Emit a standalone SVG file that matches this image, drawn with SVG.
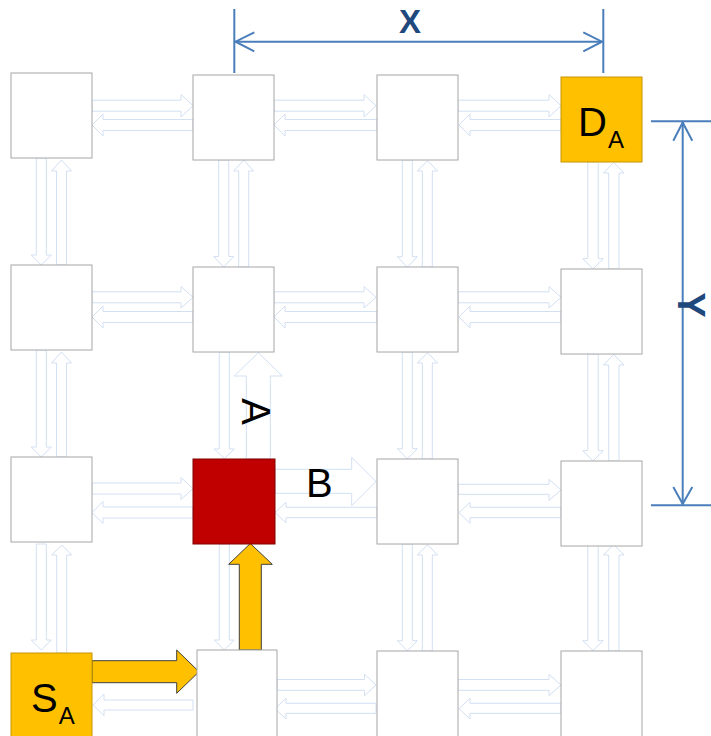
<svg xmlns="http://www.w3.org/2000/svg" width="711" height="736" viewBox="0 0 711 736">
  <style>
    .node { fill: #ffffff; stroke: #a6a6a6; stroke-width: 1; }
    .src { fill: #ffc000; stroke: #c89400; stroke-width: 1; }
    .hot { fill: #c00000; stroke: #7f0000; stroke-width: 1; }
    .link { fill: #ffffff; stroke: #d2e0f2; stroke-width: 1; }
    .route { fill: #ffc000; stroke: #3f3f3f; stroke-width: 1; }
    .dim { fill: none; stroke: #4a7ebb; stroke-width: 2; }
    .lbl { font-family: "Liberation Sans", Arial, sans-serif; font-size: 40px; fill: #000000; }
    .sub { font-size: 24px; }
    .dimlbl { font-family: "Liberation Sans", Arial, sans-serif; font-size: 33px; font-weight: bold; fill: #1f497d; }
  </style>

  <!-- Links (drawn first so the router boxes sit on top of their ends) -->
  <g id="connectors">
    <!-- row 1 horizontal -->
    <path class="link" d="M92,100.2 H181 V94.5 L193,105.7 L181,117 V111.2 H92 Z"/>
    <path class="link" d="M193,119.5 H103 V114 L92,125 L103,136 V130.5 H193 Z"/>
    <path class="link" d="M274,100.2 H364 V94.5 L376,105.7 L364,117 V111.2 H274 Z"/>
    <path class="link" d="M377,119.5 H285 V114 L274,125 L285,136 V130.5 H377 Z"/>
    <path class="link" d="M458,100.2 H549 V94.5 L561,105.7 L549,117 V111.2 H458 Z"/>
    <path class="link" d="M561,119.5 H470 V114 L459,125 L470,136 V130.5 H561 Z"/>

    <!-- row 2 horizontal -->
    <path class="link" d="M92,291.8 H181 V286.5 L193,297.3 L181,308 V302.8 H92 Z"/>
    <path class="link" d="M193,311.5 H103 V306 L92,317 L103,328 V322.5 H193 Z"/>
    <path class="link" d="M274,291.8 H364 V286.5 L376,297.3 L364,308 V302.8 H274 Z"/>
    <path class="link" d="M377,311.5 H285 V306 L274,317 L285,328 V322.5 H377 Z"/>
    <path class="link" d="M458,291.8 H549 V286.5 L561,297.3 L549,308 V302.8 H458 Z"/>
    <path class="link" d="M561,311.5 H470 V306 L459,317 L470,328 V322.5 H561 Z"/>

    <!-- row 3 horizontal -->
    <path class="link" d="M92,483 H181 V477.5 L193,488.5 L181,499.5 V494 H92 Z"/>
    <path class="link" d="M193,507 H103 V501.5 L92,512.5 L103,523.5 V518 H193 Z"/>
    <path class="link" d="M275,469.3 H351.7 V457.3 L376,481.5 L351.7,505.7 V493.3 H275 Z"/>
    <path class="link" d="M377,507.3 H286 V502.3 L275,512.5 L286,522.7 V517.7 H377 Z"/>
    <path class="link" d="M458,484.3 H549 V479.3 L561,489.8 L549,500.5 V494.3 H458 Z"/>
    <path class="link" d="M561,507.3 H470 V502.3 L459,512.7 L470,523.3 V517.7 H561 Z"/>

    <!-- row 4 horizontal -->
    <path class="link" d="M193,700 H104 V694 L93,705 L104,715.7 V710 H193 Z"/>
    <path class="link" d="M277,679.5 H364.5 V674.3 L376,685 L364.5,695.7 V690.3 H277 Z"/>
    <path class="link" d="M376,703.3 H286 V698.3 L275,708.7 L286,719 V713.3 H376 Z"/>
    <path class="link" d="M458,679.5 H549 V674.3 L561,685 L549,695.7 V690.3 H458 Z"/>
    <path class="link" d="M561,703.3 H470 V698.3 L459,708.7 L470,719 V713.3 H561 Z"/>

    <!-- column 1 vertical -->
    <path class="link" d="M36.3,158 V255 H31.3 L41.3,265 L51.3,255 H46.3 V158 Z"/>
    <path class="link" d="M56.5,265 V171 H51.5 L61.5,160 L71.5,171 H66.5 V265 Z"/>
    <path class="link" d="M36.3,350 V447 H31.3 L41.3,457 L51.3,447 H46.3 V350 Z"/>
    <path class="link" d="M56.5,457 V363 H51.5 L61.5,352 L71.5,363 H66.5 V457 Z"/>
    <path class="link" d="M36.3,544 V640 H31.3 L41.3,650 L51.3,640 H46.3 V544 Z"/>
    <path class="link" d="M56.7,653 V555 H51.7 L61.7,545 L71.7,555 H66.7 V653 Z"/>

    <!-- column 2 vertical -->
    <path class="link" d="M218.7,160 V256.5 H213.7 L223.7,267 L233.7,256.5 H228.7 V160 Z"/>
    <path class="link" d="M238.7,267 V171 H233.7 L243.7,160 L253.7,171 H248.7 V267 Z"/>
    <path class="link" d="M219.3,352 V449 H214.3 L224.3,458.5 L234.3,449 H229.3 V352 Z"/>
    <path class="link" d="M246.3,459 V376 H234.3 L258.3,352.7 L282.3,376 H270.3 V459 Z"/>
    <path class="link" d="M219.3,544 V640 H214.3 L224.3,650 L234.3,640 H229.3 V544 Z"/>

    <!-- column 3 vertical -->
    <path class="link" d="M402.3,160 V256.7 H397.3 L407.3,267.3 L417.3,256.7 H412.3 V160 Z"/>
    <path class="link" d="M422.3,267 V171 H417.3 L427.5,160.7 L437.7,171 H432.3 V267 Z"/>
    <path class="link" d="M402.3,352 V448.7 H397.3 L407.3,459 L417.3,448.7 H412.3 V352 Z"/>
    <path class="link" d="M422.3,459 V363 H417.3 L427.5,352.7 L437.7,363 H432.3 V459 Z"/>
    <path class="link" d="M402.3,544 V640.7 H397.3 L407.3,651 L417.3,640.7 H412.3 V544 Z"/>
    <path class="link" d="M422.3,651 V555 H417.3 L427.5,544.7 L437.7,555 H432.3 V651 Z"/>

    <!-- column 4 vertical -->
    <path class="link" d="M587.8,162 V258.7 H582.8 L593,269 L603.2,258.7 H598.2 V162 Z"/>
    <path class="link" d="M608.7,269 V173 H603.5 L613.7,162.5 L624,173 H619 V269 Z"/>
    <path class="link" d="M587.8,354 V450.7 H582.8 L593,461 L603.2,450.7 H598.2 V354 Z"/>
    <path class="link" d="M608.7,461 V365 H603.5 L613.7,354.5 L624,365 H619 V461 Z"/>
    <path class="link" d="M587.8,544 V640.7 H582.8 L593,650.5 L603.2,640.7 H598.2 V544 Z"/>
    <path class="link" d="M608.7,651 V555 H603.5 L613.7,544.5 L624,555 H619 V651 Z"/>

    <!-- route S_A -> hotspot -->
    <path class="route" d="M92,660.7 H176.7 V650 L199,671.7 L176.7,693.3 V682.7 H92 Z"/>
    <path class="route" d="M239.3,650 V564.3 H228.7 L250.3,543.5 L272.3,564.3 H261.3 V650 Z"/>

    <!-- link labels -->
    <text class="lbl" transform="translate(242,411.5) rotate(90)" text-anchor="middle">A</text>
    <text class="lbl" x="306" y="497">B</text>
  </g>

  <!-- Mesh nodes -->
  <g id="n11"><rect class="node" x="11" y="73" width="81" height="85"/></g>
  <g id="n12"><rect class="node" x="193" y="75" width="81" height="85"/></g>
  <g id="n13"><rect class="node" x="377" y="75" width="81" height="85"/></g>
  <g id="dest">
    <rect class="src" x="561" y="77" width="81" height="85"/>
    <text class="lbl" x="578" y="136">D<tspan class="sub" dx="1" dy="12">A</tspan></text>
  </g>

  <g id="n21"><rect class="node" x="11" y="265" width="81" height="85"/></g>
  <g id="n22"><rect class="node" x="193" y="267" width="81" height="85"/></g>
  <g id="n23"><rect class="node" x="377" y="267" width="81" height="85"/></g>
  <g id="n24"><rect class="node" x="561" y="269" width="81" height="85"/></g>

  <g id="n31"><rect class="node" x="11" y="457" width="81" height="85"/></g>
  <g id="hotspot"><rect class="hot" x="193" y="459" width="82" height="85"/></g>
  <g id="n33"><rect class="node" x="377" y="459" width="81" height="85"/></g>
  <g id="n34"><rect class="node" x="561" y="461" width="81" height="85"/></g>

  <g id="source">
    <rect class="src" x="11" y="653" width="81" height="90"/>
    <text class="lbl" x="31" y="712">S<tspan class="sub" dx="1" dy="12">A</tspan></text>
  </g>
  <g id="n42"><rect class="node" x="197" y="650" width="80" height="90"/></g>
  <g id="n43"><rect class="node" x="377" y="651" width="81" height="90"/></g>
  <g id="n44"><rect class="node" x="561" y="651" width="81" height="90"/></g>

  <!-- Dimensions -->
  <g id="dim-x">
    <line class="dim" x1="234.3" y1="9" x2="234.3" y2="73"/>
    <line class="dim" x1="603.3" y1="9" x2="603.3" y2="73"/>
    <line class="dim" x1="235" y1="41.7" x2="602.5" y2="41.7"/>
    <polyline class="dim" points="254.3,32.3 235.5,41.7 254.3,51.3"/>
    <polyline class="dim" points="583.3,32.3 602,41.7 583.3,51.3"/>
    <text class="dimlbl" x="410" y="33.3" text-anchor="middle">X</text>
  </g>
  <g id="dim-y">
    <line class="dim" x1="651" y1="121.3" x2="711" y2="121.3"/>
    <line class="dim" x1="651" y1="505.3" x2="711" y2="505.3"/>
    <line class="dim" x1="682.7" y1="122" x2="682.7" y2="504.5"/>
    <polyline class="dim" points="673.3,140.7 682.7,122.5 692.3,140.7"/>
    <polyline class="dim" points="673.3,487 682.7,504 692.3,487"/>
    <text class="dimlbl" transform="translate(678,305) rotate(90)" text-anchor="middle" style="font-size:38px">Y</text>
  </g>
</svg>
